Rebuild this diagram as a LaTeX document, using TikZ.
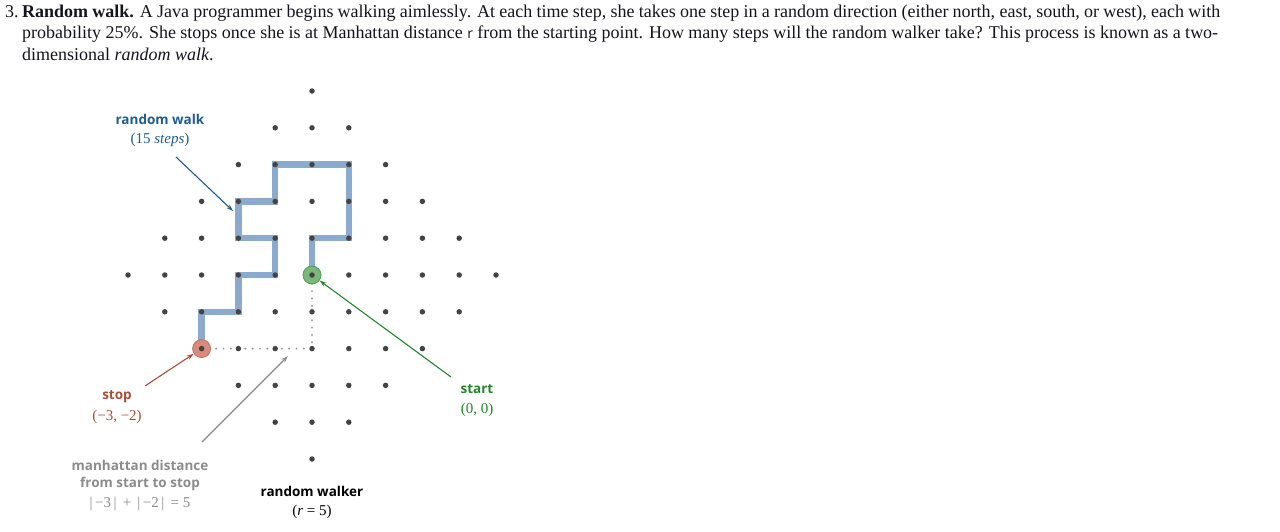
\documentclass[tikz,border=0pt]{standalone}
\usepackage{fontspec}
\setmainfont{Liberation Serif}
\newfontfamily\lblfont{Open Sans}
\usetikzlibrary{arrows.meta,backgrounds,positioning}
\definecolor{walkblue}{RGB}{138,170,206}
\definecolor{lblblue}{RGB}{30,92,150}
\definecolor{stopred}{RGB}{168,78,58}
\definecolor{stopfill}{RGB}{216,138,126}
\definecolor{startgreen}{RGB}{34,134,42}
\definecolor{startfill}{RGB}{122,184,122}
\definecolor{distgray}{RGB}{140,140,140}
\definecolor{dotgray}{RGB}{68,68,68}
\definecolor{paratext}{RGB}{20,20,30}
\tikzset{
    >={Stealth[length=7pt,width=4.5pt]}, % small filled tips
    gdot/.style={circle, fill=dotgray, inner sep=0pt, minimum size=5.5pt},
    walkline/.style={line width=6.5pt, draw=walkblue, line join=miter},
    distline/.style={line width=2.2pt, draw=distgray!90, dash pattern=on 0pt off 7.3pt, line cap=round},
    endmark/.style={circle, inner sep=0pt, minimum size=18pt, line width=0.8pt},
    para/.style={anchor=base west, inner sep=0pt, text=paratext, font=\fontsize{18}{21}\selectfont},
    headlbl/.style={inner sep=0pt, font=\lblfont\bfseries\fontsize{13.5}{16}\selectfont},
    sublbl/.style={inner sep=0pt, font=\fontsize{15}{18}\selectfont},
    pointer/.style={->, line width=1.1pt}
}
\begin{document}
\begin{tikzpicture}[x=1pt, y=-1pt]
  \useasboundingbox (0,0) rectangle (1280,531);

  % exercise text
  \node[para] (num) at (5,17) {3.};
  \node[para] (line1) at (22,17) {\makebox[1198pt][s]{\textbf{Random walk.} A Java programmer begins walking aimlessly. At each time step, she takes one step in a random direction (either north, east, south, or west), each with}};
  \node[para] (line2) at (22,38.5) {\makebox[1196pt][s]{probability 25\%. She stops once she is at Manhattan distance {\lblfont\fontsize{14}{16}\selectfont r} from the starting point. How many steps will the random walker take? This process is known as a two-}};
  \node[para] (line3) at (22,60) {dimensional \textit{random walk}.};

  % lattice points with |x|+|y| <= 5
  \foreach \i in {-5,...,5}{
    \foreach \j in {-5,...,5}{
      \pgfmathtruncatemacro{\dist}{abs(\i)+abs(\j)}
      \ifnum\dist<6
        \node[gdot] (g\i\j) at ({312+36.8*\i},{275-36.8*\j}) {};
      \fi
    }
  }

  \begin{pgfonlayer}{background}
    % the walk (15 steps)
    \draw[walkline] (g00.center) -- (g01.center) -- (g11.center) -- (g12.center)
      -- (g13.center) -- (g03.center) -- (g-13.center) -- (g-12.center)
      -- (g-22.center) -- (g-21.center) -- (g-11.center) -- (g-10.center)
      -- (g-20.center) -- (g-2-1.center) -- (g-3-1.center) -- (g-3-2.center);
    % manhattan distance
    \draw[distline] (g-3-2.center) -- (g0-2.center) -- (g00.center);
    % start and stop
    \node[endmark, fill=startfill, draw=startgreen!80] (startc) at (g00) {};
    \node[endmark, fill=stopfill, draw=stopred!80] (stopc) at (g-3-2) {};
  \end{pgfonlayer}

  % labels
  \node[headlbl, text=lblblue] (walktitle) at (160,119) {random walk};
  \node[sublbl, text=lblblue] (walksub) at (160,140) {(15 \textit{steps})};
  \node[headlbl, text=stopred] (stoptitle) at (117,397) {stop};
  \node[sublbl, text=stopred] (stopsub) at (117,417) {(−3, −2)};
  \node[headlbl, text=startgreen] (starttitle) at (477,389) {start};
  \node[sublbl, text=startgreen] (startsub) at (477,410) {(0, 0)};
  \node[headlbl, text=distgray] (disttitle) at (140,465) {manhattan distance};
  \node[headlbl, text=distgray] (distmid) at (140,484) {from start to stop};
  \node[sublbl, text=distgray] (distsub) at (140,504) {|\,−3\,|\, + \,|\,−2\,|\, = 5};
  \node[headlbl, text=black] (walkertitle) at (312,491) {random walker};
  \node[sublbl, text=black] (walkersub) at (312,512) {(\textit{r} = 5)};

  % pointers
  \coordinate (walkfrom) at (176,157);
  \coordinate (walkto) at (233,211);
  \coordinate (stopfrom) at (145,386);
  \coordinate (startfrom) at (451,377);
  \coordinate (distfrom) at (202,442);
  \coordinate (distto) at (288,356);
  \draw[pointer, lblblue] (walkfrom) -- (walkto);
  \draw[pointer, stopred] (stopfrom) -- (stopc);
  \draw[pointer, startgreen] (startfrom) -- (startc);
  \draw[pointer, distgray] (distfrom) -- (distto);
\end{tikzpicture}
\end{document}
